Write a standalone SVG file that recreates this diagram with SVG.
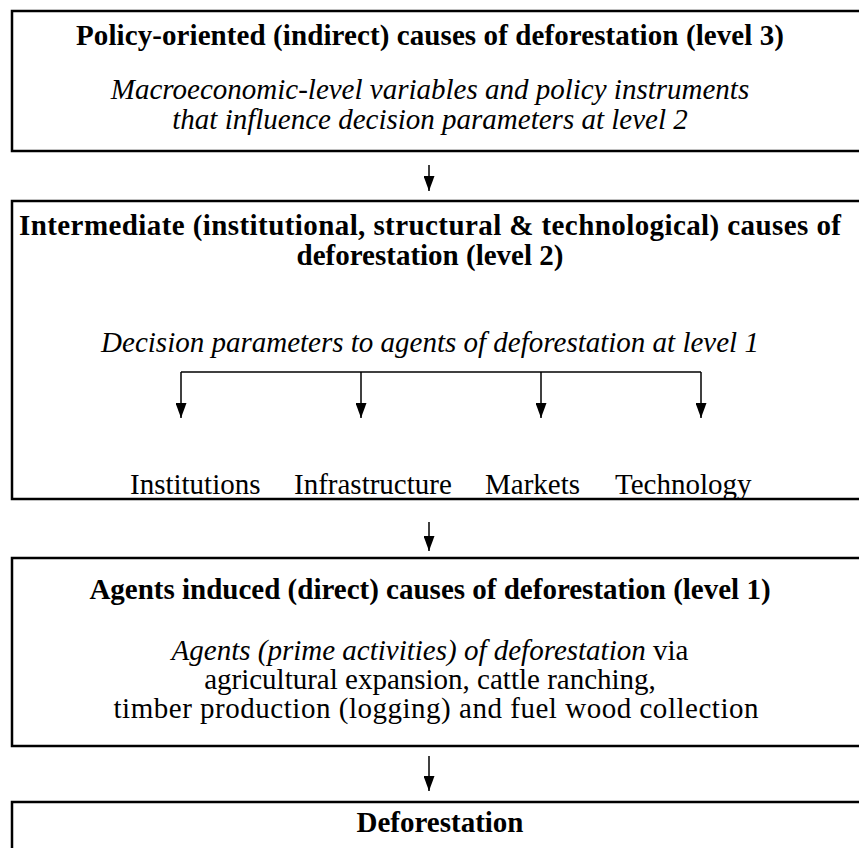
<svg xmlns="http://www.w3.org/2000/svg" width="859" height="848" viewBox="0 0 859 848">
<style>
.box{fill:#fff;stroke:#000;stroke-width:2.5}
.t{font-family:"Liberation Serif","Times New Roman",serif;font-size:29px;fill:#000;text-anchor:middle}
.s{text-anchor:start}
.b{font-weight:bold}
.i{font-style:italic}
.c{fill:none;stroke:#000;stroke-width:1.5}
</style>
<defs>
<marker id="ah" markerWidth="15" markerHeight="11" refX="15" refY="5.5" orient="auto" markerUnits="userSpaceOnUse" viewBox="0 0 15 11">
<path d="M0,0 L15,5.5 L0,11 Z" fill="#000"/>
</marker>
</defs>
<rect width="859" height="848" fill="#fff"/>
<g id="box1">
<rect class="box" x="12" y="11" width="870" height="140"/>
<text class="t b" x="430" y="45" textLength="708" lengthAdjust="spacing">Policy-oriented (indirect) causes of deforestation (level 3)</text>
<text class="t i" x="430" y="99">Macroeconomic-level variables and policy instruments</text>
<text class="t i" x="430" y="129">that influence decision parameters at level 2</text>
</g>
<g id="box2">
<rect class="box" x="12" y="201" width="870" height="298"/>
<text class="t b" x="430" y="235" textLength="822" lengthAdjust="spacing">Intermediate (institutional, structural &amp; technological) causes of</text>
<text class="t b" x="430" y="265">deforestation (level 2)</text>
<text class="t i" x="430" y="352">Decision parameters to agents of deforestation at level 1</text>
<text class="t s" x="130" y="494">Institutions</text>
<text class="t s" x="294" y="494">Infrastructure</text>
<text class="t s" x="485" y="494">Markets</text>
<text class="t s" x="615" y="494">Technology</text>
</g>
<g id="box3">
<rect class="box" x="12" y="558" width="870" height="188"/>
<text class="t b" x="430" y="599">Agents induced (direct) causes of deforestation (level 1)</text>
<text class="t" x="430" y="660"><tspan class="i">Agents (prime activities) of deforestation</tspan> via</text>
<text class="t" x="430" y="689">agricultural expansion, cattle ranching,</text>
<text class="t" x="436" y="718" textLength="645" lengthAdjust="spacing">timber production (logging) and fuel wood collection</text>
</g>
<g id="box4">
<rect class="box" x="12" y="802" width="870" height="80"/>
<text class="t b" x="440" y="832">Deforestation</text>
</g>
<g id="connectors">
<line class="c" x1="429" y1="165" x2="429" y2="191" marker-end="url(#ah)"/>
<polyline class="c" points="181,372 701,372"/>
<line class="c" x1="181" y1="372" x2="181" y2="418" marker-end="url(#ah)"/>
<line class="c" x1="361" y1="372" x2="361" y2="418" marker-end="url(#ah)"/>
<line class="c" x1="541" y1="372" x2="541" y2="418" marker-end="url(#ah)"/>
<line class="c" x1="701" y1="372" x2="701" y2="418" marker-end="url(#ah)"/>
<line class="c" x1="429" y1="522" x2="429" y2="551" marker-end="url(#ah)"/>
<line class="c" x1="429" y1="756" x2="429" y2="791" marker-end="url(#ah)"/>
</g>
</svg>
